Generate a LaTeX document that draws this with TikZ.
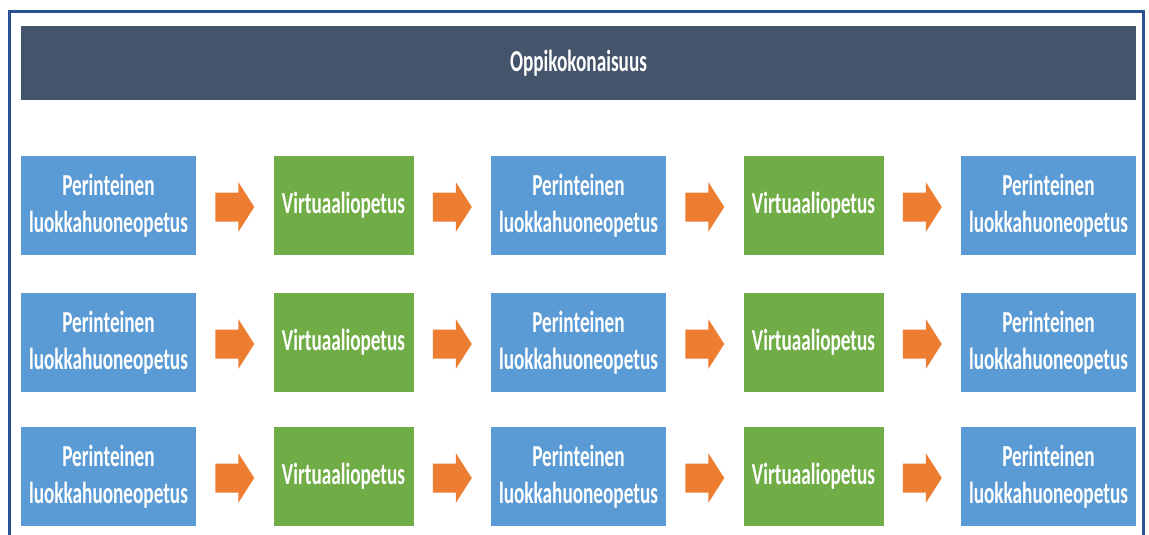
\documentclass[tikz,border=0pt]{standalone}
\usepackage{fontspec}
\setmainfont{Carlito}[FakeStretch=0.63]
\usetikzlibrary{calc}
\definecolor{framecol}{HTML}{2B5192}
\definecolor{barcol}{HTML}{44546A}
\definecolor{classcol}{HTML}{5B9BD5}
\definecolor{virtcol}{HTML}{70AD47}
\definecolor{arrowcol}{HTML}{ED7D31}
\tikzset{
  boxtext/.style={text=white, font=\bfseries\fontsize{30.5}{37}\selectfont, align=center, inner sep=0pt},
  titlebar/.style={boxtext, fill=barcol, minimum width=1115, minimum height=74},
  classbox/.style={boxtext, fill=classcol, minimum width=175, minimum height=99},
  virtbox/.style={boxtext, fill=virtcol, minimum width=140, minimum height=99},
  blockarrow/.style={fill=arrowcol},
}
\begin{document}
\begin{tikzpicture}[x=1pt, y=-1pt]
\useasboundingbox (0,0) rectangle (1149,535);
\clip (0,0) rectangle (1149,535);
\fill[white] (0,0) rectangle (1149,535);
% outer frame, running past the lower edge
\draw[framecol, line width=3pt] (9.5,11.5) rectangle (1143.5,570);
% heading bar
\node[titlebar] (title) at (578.5,63) {Oppikokonaisuus};
% three rows of alternating classroom / virtual teaching blocks
\foreach \r/\y in {1/205.5, 2/342.5, 3/476.5}{
  \node[classbox] (b\r1) at (108.5,\y) {Perinteinen\\luokkahuoneopetus};
  \node[virtbox]  (b\r2) at (343.5,\y) {Virtuaaliopetus};
  \node[classbox] (b\r3) at (578.5,\y) {Perinteinen\\luokkahuoneopetus};
  \node[virtbox]  (b\r4) at (813.5,\y) {Virtuaaliopetus};
  \node[classbox] (b\r5) at (1048.5,\y) {Perinteinen\\luokkahuoneopetus};
  \foreach \c [evaluate=\c as \d using int(\c+1)] in {1,...,4}{
    \coordinate (m\r\c) at ($(b\r\c.east)!0.5!(b\r\d.west)+(0,1.5)$);
    \fill[blockarrow, shift={(m\r\c)}]
      (-19.5,-14.5) -- (3.5,-14.5) -- (3.5,-25) -- (19.5,0)
      -- (3.5,25) -- (3.5,14.5) -- (-19.5,14.5) -- cycle;
  }
}
\end{tikzpicture}
\end{document}
